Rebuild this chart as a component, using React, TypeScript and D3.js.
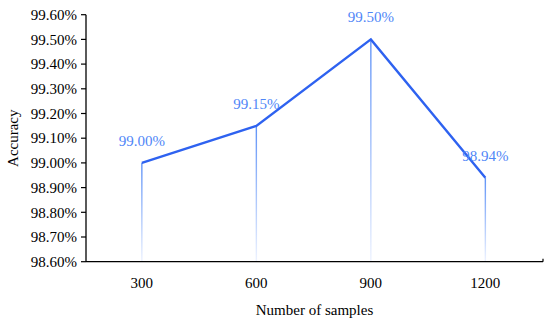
import React from "react";
import * as d3 from "d3";

const categories = ["300", "600", "900", "1200"];
const accuracy = [99.0, 99.15, 99.5, 98.94];
const yTicks = [98.6, 98.7, 98.8, 98.9, 99.0, 99.1, 99.2, 99.3, 99.4, 99.5, 99.6];

const W = 550, H = 326;
const left = 86, right = 543, top = 14.7, bottom = 261.7;
const FONT = "'Liberation Serif', 'DejaVu Serif', serif";

export default function App() {
  const x = d3.scaleBand<string>().domain(categories).range([left - 1.4, right - 0.4]);
  const y = d3.scaleLinear().domain([98.6, 99.6]).range([bottom, top]);
  const cx = (c: string) => (x(c) as number) + x.bandwidth() / 2;
  const line = d3.line<number>().x((_, i) => cx(categories[i])).y((d) => y(d));
  return (
    <svg width={W} height={H} style={{ position: "absolute", left: 0, top: 0, background: "#fff" }}>
      <defs>
        <linearGradient id="drop" x1="0" y1="0" x2="0" y2="1">
          <stop offset="0" stopColor="#6093f7" />
          <stop offset="1" stopColor="#eef3ff" />
        </linearGradient>
      </defs>
      {accuracy.map((v, i) => (
        <rect key={"d" + i} x={cx(categories[i]) - 0.7} y={y(v)} width={1.4} height={bottom - y(v)} fill="url(#drop)" />
      ))}
      <line x1={left} x2={left} y1={top} y2={bottom} stroke="#000" strokeWidth={1.3} />
      {yTicks.map((t) => (
        <g key={t}>
          <line x1={left - 5} x2={left} y1={y(t)} y2={y(t)} stroke="#000" strokeWidth={1.2} />
          <text x={left - 9} y={y(t)} dy="0.35em" textAnchor="end" fontFamily={FONT} fontSize={15} fill="#000">
            {d3.format(".2f")(t)}%
          </text>
        </g>
      ))}
      <line x1={left} x2={right} y1={bottom} y2={bottom} stroke="#000" strokeWidth={1.3} />
      <line x1={right} x2={right} y1={bottom} y2={bottom - 3} stroke="#000" strokeWidth={1.2} />
      {categories.map((c) => (
        <text key={c} x={cx(c)} y={288} textAnchor="middle" fontFamily={FONT} fontSize={15} fill="#000">
          {c}
        </text>
      ))}
      <path d={line(accuracy) || ""} fill="none" stroke="#2e62f0" strokeWidth={2.4} strokeLinejoin="miter" />
      {accuracy.map((v, i) => (
        <text key={"l" + i} x={cx(categories[i])} y={y(v) - 17} textAnchor="middle" fontFamily={FONT} fontSize={15} fill="#4f86f7">
          {d3.format(".2f")(v)}%
        </text>
      ))}
      <text x={(left + right) / 2} y={315} textAnchor="middle" fontFamily={FONT} fontSize={15} fill="#000">
        Number of samples
      </text>
      <text transform={`translate(18,${(top + bottom) / 2}) rotate(-90)`} textAnchor="middle" fontFamily={FONT} fontSize={15} fill="#000">
        Accuracy
      </text>
    </svg>
  );
}
